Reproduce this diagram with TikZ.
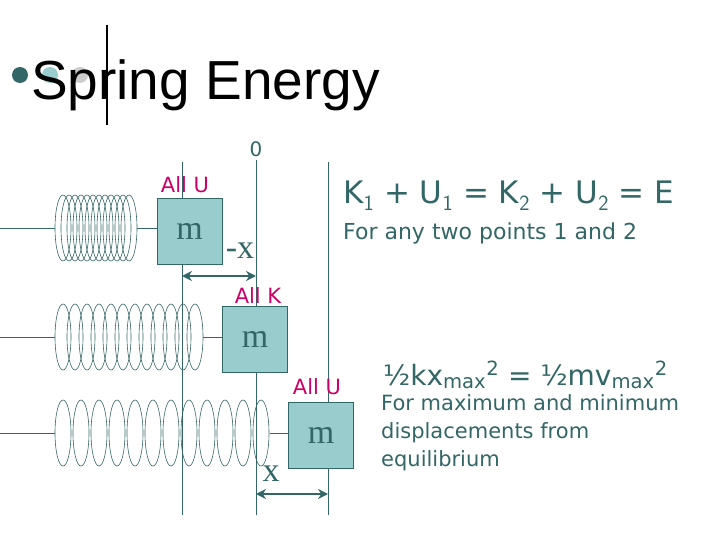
\documentclass[tikz,border=0pt]{standalone}
\usetikzlibrary{arrows.meta}
\usepackage{fontspec}
\setmainfont{DejaVu Sans}
\newfontfamily\ttl{Liberation Sans}
\newfontfamily\srf{Liberation Serif}
\definecolor{tealD}{HTML}{336666}
\definecolor{tealL}{HTML}{99CCCC}
\definecolor{pinkc}{HTML}{CC0066}
\begin{document}
\begin{tikzpicture}[x=1pt,y=-1pt,
  guide/.style={tealD,line width=0.8pt},
  mass/.style={draw=tealD,fill=tealL,line width=0.8pt,minimum width=65pt,minimum height=66pt,inner sep=0pt,font=\srf\fontsize{34}{34}\selectfont,text=tealD},
  lbl/.style={text=pinkc,font=\fontsize{21}{21}\selectfont,inner sep=0pt},
  dim/.style={tealD,line width=2.4pt,<->,>={Stealth[length=10pt,width=10pt]}},
  coil/.style={tealD,line width=0.6pt}]
\useasboundingbox (0,0) rectangle (720,540);
% title
\fill[tealD] (20,75) circle (8);
\fill[tealL] (50,75) circle (8);
\fill[gray!40] (80,75) circle (8);
\node[anchor=base west,inner sep=0pt,font=\ttl\fontsize{55}{55}\selectfont] (title) at (31,100) {Spring Energy};
\draw[line width=1.2pt] (107,25) -- (107,125);
% guides
\coordinate (a1) at (182,162); \coordinate (a2) at (182,515);
\coordinate (b1) at (256,160); \coordinate (b2) at (256,515);
\coordinate (c1) at (328,162); \coordinate (c2) at (328,515);
\draw[guide] (a1) -- (a2); \draw[guide] (b1) -- (b2); \draw[guide] (c1) -- (c2);
\node[text=tealD,font=\fontsize{20}{20}\selectfont] (zero) at (256,149) {0};
% masses
\node[mass] (m1) at (189.5,231) {m};
\node[mass] (m2) at (255,339.5) {m};
\node[mass] (m3) at (321,435.5) {m};
% springs
\foreach \y/\s in {228/6, 337/12, 433/18}{
  \foreach \i in {0,...,11}{\draw[coil] ({63+\i*\s},\y) ellipse (8 and 33);}
  \draw[coil] (0,\y) -- (55,\y);
}
\draw[coil] (137,228) -- (137,228 -| m1.west);
\draw[coil] (203,337) -- (203,337 -| m2.west);
\draw[coil] (270,433) -- (270,433 -| m3.west);
% labels
\node[lbl] (u1) at (185,185) {All U};
\node[lbl] (k2) at (258,296) {All K};
\node[lbl] (u3) at (317,387) {All U};
\node[text=tealD,font=\srf\fontsize{34}{34}\selectfont,inner sep=0pt] (mx) at (240,251) {-x};
\node[text=tealD,font=\srf\fontsize{34}{34}\selectfont,inner sep=0pt] (px) at (271,474) {x};
\coordinate (d1) at (182,276); \coordinate (d2) at (256,276);
\coordinate (e1) at (256,494); \coordinate (e2) at (328,494);
\draw[dim] (d1) -- (d2);
\draw[dim] (e1) -- (e2);
% equations
\node[anchor=base west,inner sep=0pt,text=tealD,font=\fontsize{31}{31}\selectfont] (eq1) at (343,204) {K$_{\mathsf 1}$ + U$_{\mathsf 1}$ = K$_{\mathsf 2}$ + U$_{\mathsf 2}$ = E};
\node[anchor=base west,inner sep=0pt,text=tealD,font=\fontsize{22}{22}\selectfont] (t1) at (343,240) {For any two points 1 and 2};
\node[anchor=base west,inner sep=0pt,text=tealD,font=\fontsize{28}{28}\selectfont] (eq2) at (383,385) {½kx\textsubscript{max}\textsuperscript{2} = ½mv\textsubscript{max}\textsuperscript{2}};
\node[anchor=north west,align=left,inner sep=0pt,text=tealD,font=\fontsize{21}{28}\selectfont] (t2) at (381,394) {For maximum and minimum\\displacements from\\equilibrium};
\end{tikzpicture}
\end{document}
